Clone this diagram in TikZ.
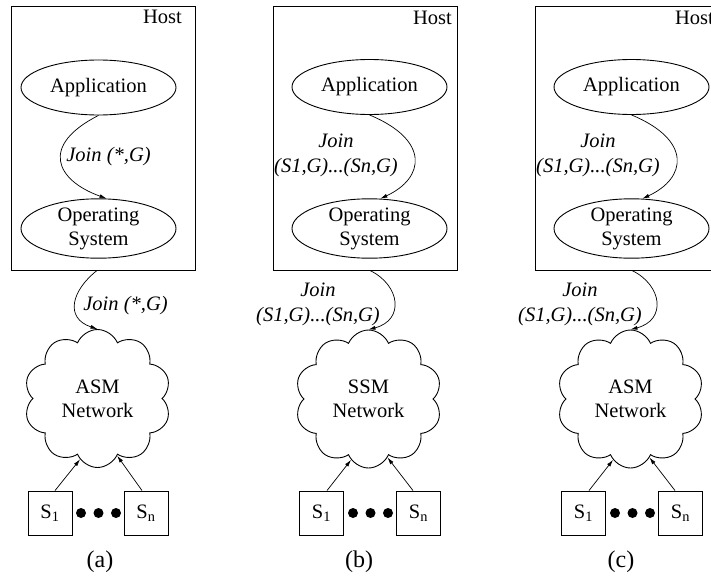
\documentclass[tikz,border=0pt]{standalone}
\usepackage{fontspec}
\setmainfont{Liberation Serif}
\usetikzlibrary{shapes.geometric,shapes.symbols,arrows.meta,calc}

\begin{document}
\begin{tikzpicture}[x=1pt,y=-1pt,
  every node/.style={font=\fontsize{20.5}{24}\selectfont},
  hostbox/.style={draw, line width=1pt, inner sep=0pt, minimum width=184pt, minimum height=263pt},
  hostlbl/.style={anchor=base east, inner sep=0pt},
  proc/.style={draw, ellipse, line width=0.9pt, minimum width=155pt, minimum height=55pt, inner sep=0pt, align=center},
  net/.style={draw, cloud, cloud puffs=10, cloud puff arc=135, cloud ignores aspect,
              minimum width=147pt, minimum height=138pt, inner sep=0pt, align=center, line width=0.9pt,
              text depth=-4pt},
  src/.style={draw, minimum size=44pt, inner sep=0pt, line width=0.9pt},
  srcdot/.style={circle, fill, inner sep=0pt, minimum size=10pt},
  msg/.style={font=\fontsize{20.5}{25}\selectfont\itshape, align=center, inner sep=0pt},
  flow/.style={-{Latex[length=7pt,width=4pt]}, line width=0.7pt},
  caption/.style={font=\fontsize{24}{28}\selectfont}
]
\useasboundingbox (0,0) rectangle (711,578);
\clip (0,0) rectangle (711,578);

% ---------------- (a): any-source join over an ASM network
\node[hostbox] (host-a) at (103,138.5) {};
\node[hostlbl] (hostlbl-a) at (182,24) {Host};
\node[proc] (app-a) at (98.5,87.5) {Application};
\node[proc] (os-a) at (98.5,228.5) {Operating\\System};
\node[msg] (j1-a) at (108.5,157) {Join (*,G)};
\node[net] (cloud-a) at (97.5,398.5) {ASM\\Network};
\node[msg] (j2-a) at (125.5,306) {Join (*,G)};
\node[src] (s1-a) at (50,513) {S\textsubscript{1}};
\node[src] (sn-a) at (146,513) {S\textsubscript{n}};
\node[srcdot] (d1-a) at (81,513) {};
\node[srcdot] (d2-a) at (98.5,513) {};
\node[srcdot] (d3-a) at (116,513) {};
\node[caption] (cap-a) at (100,562) {(a)};

\draw[flow] (app-a.south) .. controls (40,145) and (55,180) .. (os-a.75);
\draw[flow] ($(host-a.south)+(-6,0)$) .. controls (72,290) and (64,318) .. (cloud-a.north);
\draw[flow] ($(s1-a.north)+(5,0)$) -- (cloud-a.254);
\draw[flow] ($(sn-a.north)+(-4,0)$) -- (cloud-a.289);

% ---------------- (b), (c): source-specific joins over SSM / ASM networks
\foreach \p/\dx/\kind in {b/0/SSM, c/262/ASM} {
\begin{scope}[xshift=\dx]
  \node[hostbox] (host-\p) at (365,138.5) {};
  \node[hostlbl] (hostlbl-\p) at (452,25) {Host};
  \node[proc] (app-\p) at (369.5,87) {Application};
  \node[proc] (os-\p) at (369.5,228.5) {Operating\\System};
  \node[msg] (j1-\p) at (336,155) {Join\\(S1,G)...(Sn,G)};
  \node[net] (cloud-\p) at (368.5,399) {\kind\\Network};
  \node[msg] (j2-\p) at (318,304) {Join\\(S1,G)...(Sn,G)};
  \node[src] (s1-\p) at (321.5,513) {S\textsubscript{1}};
  \node[src] (sn-\p) at (418.5,513) {S\textsubscript{n}};
  \node[srcdot] (d1-\p) at (353,513) {};
  \node[srcdot] (d2-\p) at (370.5,513) {};
  \node[srcdot] (d3-\p) at (388,513) {};
  \node[caption] (cap-\p) at (359,562) {(\p)};

  \draw[flow] (app-\p.south) .. controls (430,140) and (425,178) .. (os-\p.70);
  \draw[flow] ($(host-\p.south)+(5,0)$) .. controls (400,285) and (405,320) .. (cloud-\p.north);
  \draw[flow] ($(s1-\p.north)+(5.5,0)$) -- (cloud-\p.254);
  \draw[flow] ($(sn-\p.north)+(-5.5,0)$) -- (cloud-\p.288);
\end{scope}
}
\end{tikzpicture}
\end{document}
